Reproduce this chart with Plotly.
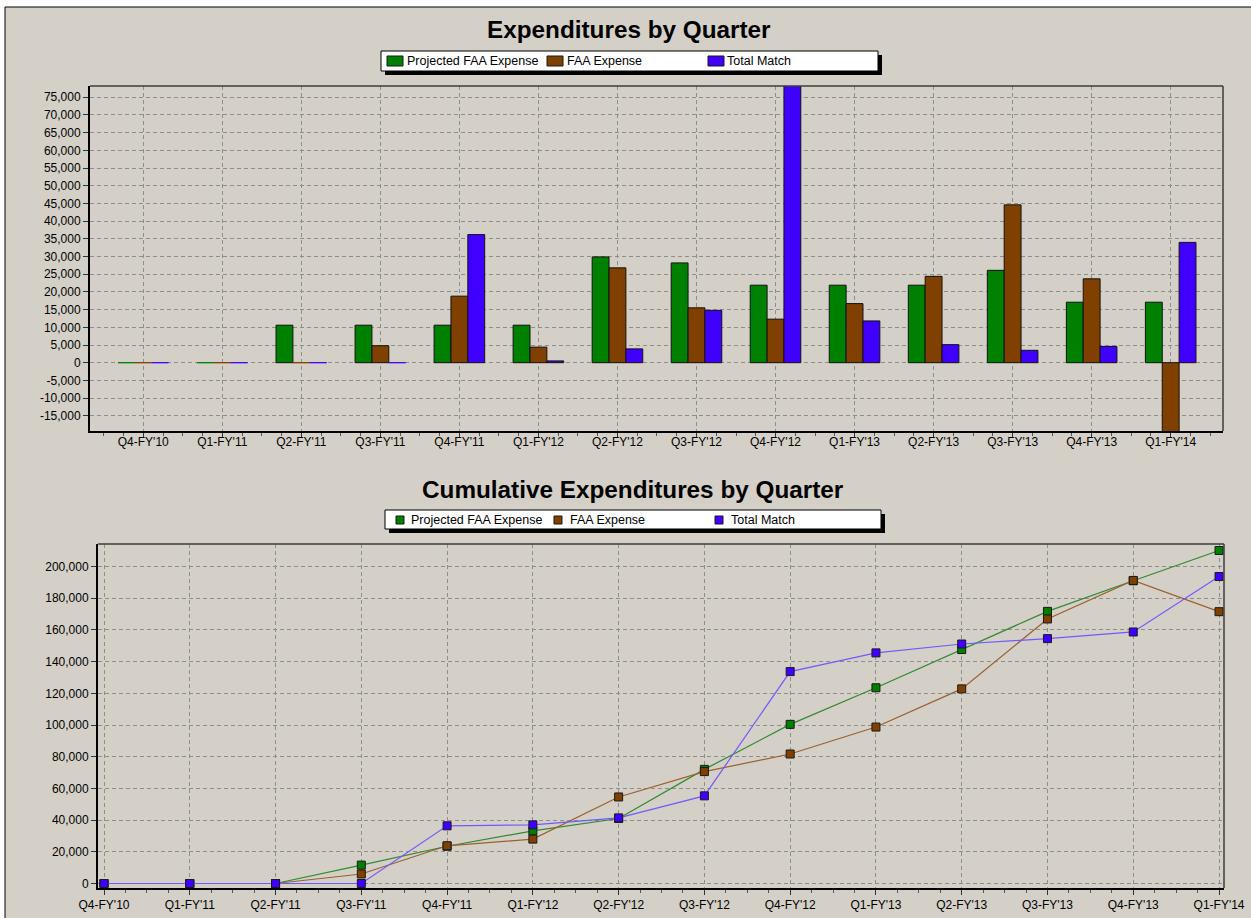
import plotly.graph_objects as go

W, H = 1251, 918


def px(x):
    return x / W


def py(y):
    return 1 - y / H


# ---------------- data ----------------
quarters = ["Q4-FY'10", "Q1-FY'11", "Q2-FY'11", "Q3-FY'11", "Q4-FY'11", "Q1-FY'12", "Q2-FY'12",
            "Q3-FY'12", "Q4-FY'12", "Q1-FY'13", "Q2-FY'13", "Q3-FY'13", "Q4-FY'13", "Q1-FY'14"]
series_names = ["Projected FAA Expense", "FAA Expense", "Total Match"]

# quarterly expenditures
projected_q = [0, 0, 10600, 10600, 10600, 10600, 29900, 28200, 21900, 21900, 21900, 26100, 17100, 17100]
faa_q = [0, 0, 0, 4800, 18800, 4400, 26800, 15500, 12300, 16700, 24400, 44600, 23700, -20000]
match_q = [0, 0, 0, 0, 36200, 500, 3900, 14800, 79000, 11800, 5100, 3500, 4600, 34000]

# cumulative expenditures
projected_c = [0, 0, 0, 11600, 23500, 33200, 41000, 72000, 100400, 123500, 147600, 171700, 191000, 210100]
faa_c = [0, 0, 0, 6000, 23800, 28000, 54600, 70600, 81700, 98700, 122800, 166900, 191200, 171500]
match_c = [0, 0, 0, 0, 36400, 37000, 41400, 55300, 133700, 145500, 151100, 154500, 158700, 193700]

top_yticks = list(range(-15000, 75001, 5000))
bot_yticks = list(range(0, 200001, 20000))

# ---------------- style ----------------
BG = "#D4D0C8"
FILL = ["#008000", "#804000", "#4000FF"]
LINE = ["#2F8A2F", "#9A6030", "#7358FF"]
GRID = "#8E8E8E"
FONT = "Arial, 'Liberation Sans', sans-serif"

xs = list(range(len(quarters)))

fig = go.Figure()

for name, vals, col in zip(series_names, [projected_q, faa_q, match_q], FILL):
    fig.add_trace(go.Bar(
        x=xs, y=vals, name=name, showlegend=False,
        marker=dict(color=col, line=dict(color=[col if v == 0 else "#111111" for v in vals], width=1)),
        xaxis="x", yaxis="y", hoverinfo="skip",
    ))

for name, vals, col, lc in zip(series_names, [projected_c, faa_c, match_c], FILL, LINE):
    fig.add_trace(go.Scatter(
        x=xs, y=vals, name=name, showlegend=False, mode="lines+markers",
        line=dict(color=lc, width=1.2),
        marker=dict(symbol="square", size=8, color=col, line=dict(color="#1A1A1A", width=1)),
        xaxis="x2", yaxis="y2", hoverinfo="skip", cliponaxis=False,
    ))

axis_common = dict(
    showgrid=True, gridcolor=GRID, gridwidth=1, griddash="4px,3px",
    zeroline=False, showline=True, linecolor="#000000", linewidth=2,
    ticks="outside", ticklen=5, tickcolor="#333333", tickwidth=1,
    tickfont=dict(size=12, color="#000000", family=FONT),
    automargin=False, fixedrange=True,
)

xminor = dict(tickmode="linear", tick0=0, dtick=0.25, ticks="outside", ticklen=3,
              tickcolor="#555555", showgrid=False)

fig.update_layout(
    width=W, height=H,
    margin=dict(l=0, r=0, t=0, b=0),
    paper_bgcolor="#FFFFFF", plot_bgcolor=BG,
    font=dict(family=FONT, color="#000000"),
    barmode="group", bargap=0.36, bargroupgap=0.0,
    showlegend=False,
    xaxis=dict(axis_common, domain=[px(90), px(1223)], range=[-0.674, 13.662],
               tickmode="array", tickvals=xs, ticktext=quarters, anchor="y", minor=xminor,
               ticklabelstandoff=-6),
    yaxis=dict(axis_common, domain=[py(431), py(86)], range=[-19300, 78190],
               tickmode="array", tickvals=top_yticks, ticktext=[f"{v:,}" for v in top_yticks],
               anchor="x"),
    xaxis2=dict(axis_common, domain=[px(98), px(1224)], range=[-0.07, 13.058],
                tickmode="array", tickvals=xs, ticktext=quarters, anchor="y2", minor=xminor),
    yaxis2=dict(axis_common, domain=[py(888), py(544)], range=[-2840, 214200],
                tickmode="array", tickvals=bot_yticks, ticktext=[f"{v:,}" for v in bot_yticks],
                anchor="x2"),
)

shapes = []
annotations = []

# window panel
shapes.append(dict(type="rect", xref="paper", yref="paper", layer="below",
                   x0=px(5), x1=px(1270), y0=py(940), y1=py(7),
                   fillcolor=BG, line=dict(color="#000000", width=1)))

# top/right frame lines of the plot areas
for (l, r, t, b) in [(90, 1223, 86, 431), (98, 1224, 544, 888)]:
    shapes.append(dict(type="line", xref="paper", yref="paper", layer="above",
                       x0=px(l), x1=px(r), y0=py(t), y1=py(t), line=dict(color="#3C3C3C", width=1.5)))
    shapes.append(dict(type="line", xref="paper", yref="paper", layer="above",
                       x0=px(r), x1=px(r), y0=py(t), y1=py(b), line=dict(color="#3C3C3C", width=1.5)))

# titles
annotations.append(dict(text="<b>Expenditures by Quarter</b>", xref="paper", yref="paper",
                        x=px(629), y=py(30), xanchor="center", yanchor="middle", showarrow=False,
                        font=dict(size=24.3, family=FONT, color="#000000")))
annotations.append(dict(text="<b>Cumulative Expenditures by Quarter</b>", xref="paper", yref="paper",
                        x=px(633), y=py(489), xanchor="center", yanchor="middle", showarrow=False,
                        font=dict(size=24.3, family=FONT, color="#000000")))


def legend(box, sw_x, txt_x, sw_w, sw_h, cy):
    x0, y0, x1, y1 = box
    shapes.append(dict(type="rect", xref="paper", yref="paper", layer="above",
                       x0=px(x0 + 4), x1=px(x1 + 4), y0=py(y1 + 4), y1=py(y0 + 4),
                       fillcolor="#000000", line=dict(width=0)))
    shapes.append(dict(type="rect", xref="paper", yref="paper", layer="above",
                       x0=px(x0), x1=px(x1), y0=py(y1), y1=py(y0),
                       fillcolor="#FFFFFF", line=dict(color="#000000", width=1)))
    for sx, tx, col, name in zip(sw_x, txt_x, FILL, series_names):
        shapes.append(dict(type="rect", xref="paper", yref="paper", layer="above",
                           x0=px(sx), x1=px(sx + sw_w), y0=py(cy + sw_h / 2), y1=py(cy - sw_h / 2),
                           fillcolor=col, line=dict(color="#1A1A1A", width=1)))
        annotations.append(dict(text=name, xref="paper", yref="paper", x=px(tx), y=py(cy),
                                xanchor="left", yanchor="middle", showarrow=False,
                                font=dict(size=12.5, family=FONT, color="#000000")))


legend((381, 51, 878, 71), [387, 547, 708], [405, 565, 725], 16, 10, 61)
legend((385, 510, 881, 529), [396, 554, 715], [409, 568, 729], 8, 8, 520)

fig.update_layout(shapes=shapes, annotations=annotations)

fig.write_html("out.html", config={"displayModeBar": False},
               post_script="document.body.style.margin='0';document.body.style.overflow='hidden';")
